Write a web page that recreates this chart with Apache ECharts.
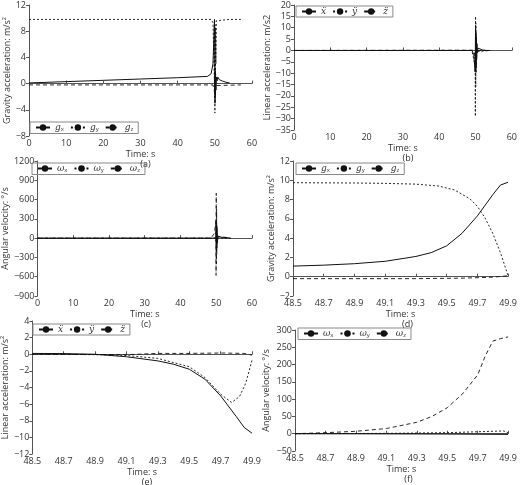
<!DOCTYPE html>
<html><head><meta charset="utf-8">
<script src="https://cdn.jsdelivr.net/npm/echarts@6/dist/echarts.min.js"></script>
<style>html,body{margin:0;padding:0;background:#fff}#c{width:520px;height:485px}</style>
</head><body><div id="c"></div>
<script>
// Panel (a) gravity acceleration, full time
const aGx=[[0,0.1],[10,0.3],[20,0.5],[30,0.7],[40,0.9],[48,1.1],[49,1.5],[49.5,3],[49.9,9.8],[50,5],[50.05,-3],[50.1,2],[50.15,-2],[50.2,1.5],[50.3,-1],[50.4,1],[50.6,0.4],[50.8,1],[51.2,0.6],[51.6,0.8],[52,0.4],[53,0.2],[54,0.1]];
const aGy=[[0,9.8],[49,9.8],[49.5,9.3],[49.9,0],[49.95,9.5],[50.02,-4.5],[50.08,9],[50.14,-2],[50.2,8.5],[50.3,3],[50.4,9.6],[50.6,9.8],[54,9.8],[57,9.8]];
const aGz=[[0,-0.2],[49.5,-0.2],[49.9,0.1],[50,-1.5],[50.05,1],[50.1,-1],[50.2,0.5],[50.3,-0.3],[50.5,-0.2],[57,-0.2]];
// Panel (b) linear acceleration, full time
const bX=[[0,0],[49,0],[49.5,-1.8],[49.9,-9.5],[50,10],[50.05,-9],[50.1,8],[50.15,-7],[50.2,6],[50.3,-4],[50.4,3],[50.5,-1],[50.7,1],[51,0.5],[52,0.2],[53,0],[54,0]];
const bY=[[0,0],[49,0],[49.77,-5.8],[49.9,-0.7],[49.95,-29],[50,15],[50.05,-16],[50.1,12],[50.15,-10],[50.2,6],[50.3,-3],[50.5,1],[50.8,-0.5],[51,0.2],[54,0]];
const bZ=[[0,0],[49.5,0.1],[49.9,0.1],[50,-4],[50.05,4],[50.1,-2],[50.2,1],[50.4,-0.3],[51,0],[54,0]];
// Panel (c) angular velocity, full time
const cWx=[[0,0],[49,0],[49.9,-2],[50,250],[50.05,-200],[50.1,180],[50.15,-150],[50.2,120],[50.3,-60],[50.5,20],[51,0],[54,0]];
const cWy=[[0,0],[49,0],[49.9,8],[50,-100],[50.05,120],[50.1,-80],[50.2,50],[50.4,-10],[51,0],[54,0]];
const cWz=[[0,0],[48.5,0],[49.5,75],[49.9,280],[49.95,-580],[50,700],[50.05,-400],[50.1,450],[50.15,-250],[50.2,200],[50.3,-80],[50.5,30],[51,0],[54,0]];
// Panel (d) gravity acceleration zoomed
const dGx=[[48.5,1.1],[48.7,1.2],[48.9,1.35],[49.1,1.6],[49.3,2.1],[49.4,2.5],[49.5,3.2],[49.6,4.5],[49.7,6.3],[49.8,8.5],[49.85,9.5],[49.9,9.8]];
const dGy=[[48.5,9.75],[48.9,9.72],[49.1,9.68],[49.3,9.6],[49.45,9.4],[49.55,9.0],[49.65,8.1],[49.7,7.3],[49.75,6.1],[49.8,4.5],[49.85,2.5],[49.9,0.1]];
const dGz=[[48.5,-0.2],[49.3,-0.2],[49.6,-0.15],[49.8,-0.05],[49.9,0.1]];
// Panel (e) linear acceleration zoomed
const eX=[[48.5,0.1],[48.7,0.08],[48.9,0],[49.1,-0.3],[49.3,-0.8],[49.4,-1.2],[49.5,-1.8],[49.6,-3],[49.7,-5],[49.8,-7.5],[49.85,-8.8],[49.9,-9.5]];
const eY=[[48.5,0],[48.9,-0.05],[49.1,-0.15],[49.3,-0.5],[49.5,-1.5],[49.6,-2.8],[49.7,-4.8],[49.77,-5.8],[49.82,-5.1],[49.86,-3.5],[49.9,-0.7]];
const eZ=[[48.5,0],[49.1,-0.05],[49.3,0.1],[49.5,0.1],[49.7,0.15],[49.85,0.1],[49.9,-0.1]];
// Panel (f) angular velocity zoomed
const fWx=[[48.5,0],[49.1,-0.5],[49.5,-1],[49.9,-2]];
const fWy=[[48.5,0],[49.1,1],[49.5,3],[49.8,7],[49.87,8],[49.9,3]];
const fWz=[[48.5,0],[48.7,3],[48.9,7],[49.1,15],[49.3,33],[49.4,50],[49.5,75],[49.6,115],[49.7,170],[49.75,225],[49.8,268],[49.85,275],[49.9,280]];

const fullTicks={min:0,max:60,interval:10};
const zoomTicks={min:48.5,max:49.9,interval:0.2};

const panels=[
 {g:{left:29,top:5,width:223,height:131},x:fullTicks,y:{min:-8,max:12,interval:4},yname:'Gravity acceleration: m/s²',cap:'(a)',
  s:[aGx,aGy,aGz],names:['gx','gy','gz'],leg:{left:30,top:122}},
 {g:{left:294,top:5,width:218,height:125},x:fullTicks,y:{min:-35,max:20,interval:5},yname:'Linear acceleration: m/s2',cap:'(b)',
  s:[bX,bY,bZ],names:['ax','ay','az'],leg:{left:296,top:6}},
 {g:{left:30,top:161,width:222,height:135},x:fullTicks,y:{min:-900,max:1200,interval:300},yname:'Angular velocity: °/s',cap:'(c)',
  s:[cWx,cWy,cWz],names:['wx','wy','wz'],leg:{left:32,top:163}},
 {g:{left:293,top:161,width:219,height:135},x:zoomTicks,y:{min:-2,max:12,interval:2},yname:'Gravity acceleration: m/s²',cap:'(d)',
  s:[dGx,dGy,dGz],names:['gx','gy','gz'],leg:{left:296,top:163}},
 {g:{left:32,top:321,width:220,height:133},x:zoomTicks,y:{min:-12,max:4,interval:2},yname:'Linear acceleration: m/s²',cap:'(e)',
  s:[eX,eY,eZ],names:['ax','ay','az'],leg:{left:33,top:324}},
 {g:{left:295,top:330,width:217,height:121},x:zoomTicks,y:{min:-50,max:300,interval:50},yname:'Angular velocity: °/s',cap:'(f)',
  s:[fWx,fWy,fWz],names:['wx','wy','wz'],leg:{left:298,top:328}}
];
const dashes=['solid',[2,2],[4,3]];
const labelOf={gx:'{m|g}{s|x}',gy:'{m|g}{s|y}',gz:'{m|g}{s|z}',ax:'{m|ẍ}',ay:'{m|ÿ}',az:'{m|z̈}',wx:'{m|ω}{s|x}',wy:'{m|ω}{s|y}',wz:'{m|ω}{s|z}'};
const grid=[],xAxis=[],yAxis=[],series=[],legend=[],title=[];
const txt='#333';
panels.forEach((p,i)=>{
  grid.push(p.g);
  xAxis.push({type:'value',gridIndex:i,min:p.x.min,max:p.x.max,interval:p.x.interval,name:'Time: s',nameLocation:'middle',nameGap:14,
    nameTextStyle:{fontSize:9,color:txt,fontFamily:'Open Sans'},
    axisLine:{lineStyle:{color:'#555'}},axisTick:{length:3,inside:true,lineStyle:{color:'#555'}},splitLine:{show:false},
    axisLabel:{fontSize:9,color:txt,margin:3,fontFamily:'Open Sans',formatter:v=>p.x.interval<1?v.toFixed(1):String(v)}});
  yAxis.push({type:'value',gridIndex:i,min:p.y.min,max:p.y.max,interval:p.y.interval,name:p.yname,nameLocation:'middle',nameGap:p.y.max>=300?24:17,
    nameTextStyle:{fontSize:9,color:txt,fontFamily:'Open Sans'},
    axisLine:{show:true,lineStyle:{color:'#555'}},axisTick:{show:true,length:3,lineStyle:{color:'#555'}},splitLine:{show:false},
    axisLabel:{fontSize:9,color:txt,margin:3,fontFamily:'Open Sans',formatter:v=>String(v).replace('-','−')}});
  const names=p.names.map(n=>n+'_'+i);
  p.s.forEach((d,k)=>series.push({type:'line',name:names[k],xAxisIndex:i,yAxisIndex:i,data:d,showSymbol:false,symbol:'none',
    lineStyle:{color:'#111',width:k==0?1:0.9,type:dashes[k]},itemStyle:{color:'#111'},animation:false}));
  legend.push({data:names,left:p.leg.left,top:p.leg.top,orient:'horizontal',itemWidth:14,itemHeight:8,itemGap:6,padding:[1,5],
    borderColor:'#888',borderWidth:1,
    formatter:n=>labelOf[n.split('_')[0]],
    textStyle:{fontSize:9,color:txt,fontFamily:'Open Sans',rich:{m:{fontSize:9,fontStyle:'italic',fontFamily:'DejaVu Serif',color:txt},s:{fontSize:6,verticalAlign:'bottom',padding:[4,0,0,0],color:txt}}}});
  title.push({text:p.cap,left:p.g.left+p.g.width/2,top:p.g.top+p.g.height+19,textAlign:'center',textStyle:{fontSize:9,fontWeight:'normal',color:txt,fontFamily:'Open Sans'}});
});
const ch=echarts.init(document.getElementById('c'),null,{renderer:'canvas'});
ch.setOption({animation:false,title,grid,xAxis,yAxis,series,legend});
</script></body></html>
